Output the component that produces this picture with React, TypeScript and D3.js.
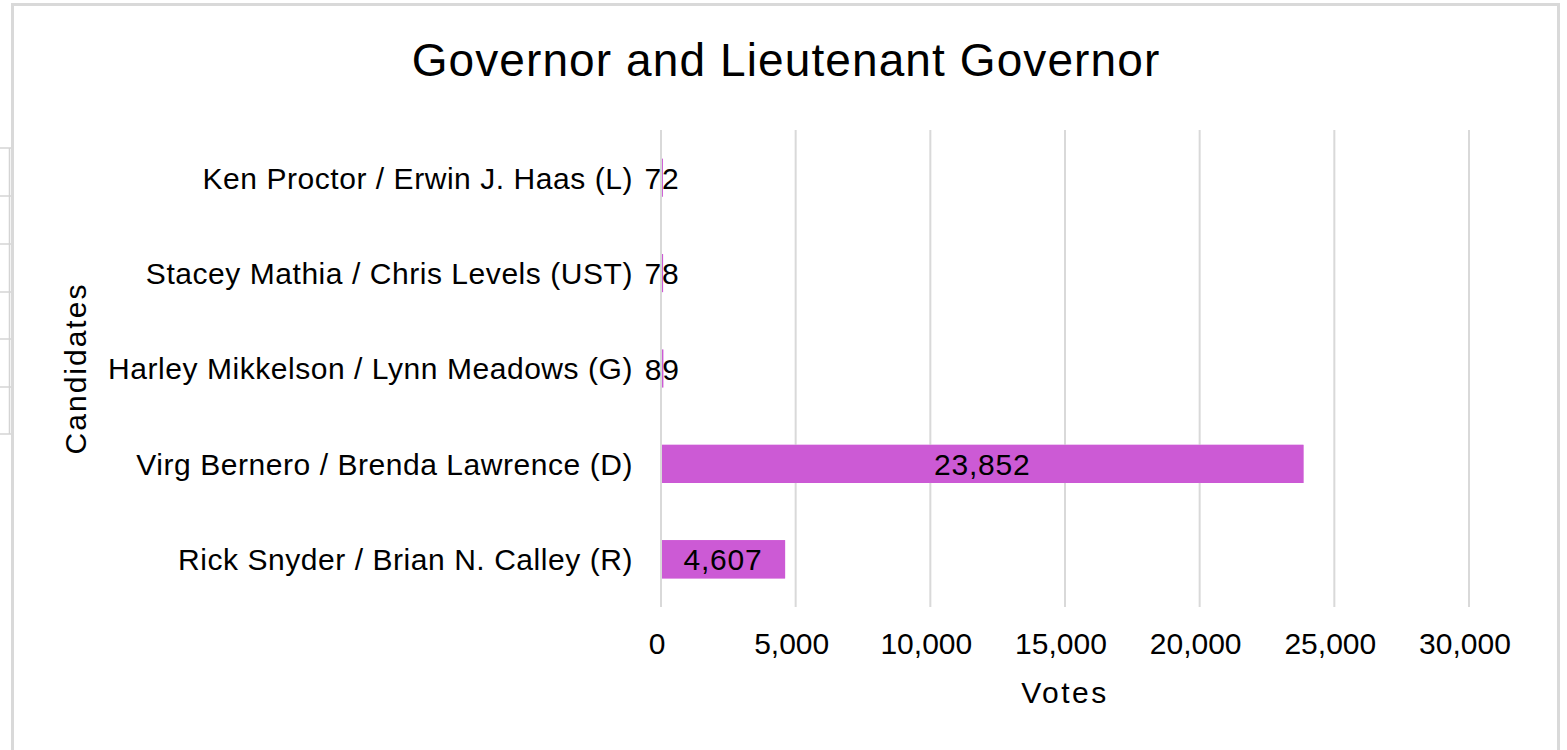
import * as d3 from "d3";

// candidates listed top to bottom as in the chart
const candidates = [
  "Ken Proctor / Erwin J. Haas (L)",
  "Stacey Mathia / Chris Levels (UST)",
  "Harley Mikkelson / Lynn Meadows (G)",
  "Virg Bernero / Brenda Lawrence (D)",
  "Rick Snyder / Brian N. Calley (R)",
];
const votes = [72, 78, 89, 23852, 4607];
const xTicks = [0, 5000, 10000, 15000, 20000, 25000, 30000];
const sheetRows = [148, 196, 244, 292, 339, 387, 434];

const W = 1567;
const H = 750;
const FONT = "'Liberation Sans', Arial, sans-serif";
const GRID = "#d9d9d9";
const BAR = "#cc5ad5";

export default function App() {
  const plot = { left: 661, right: 1469, top: 130, bottom: 607 };

  const x = d3.scaleLinear().domain([0, 30000]).range([plot.left, plot.right]);
  const y = d3
    .scaleBand<string>()
    .domain(candidates)
    .range([plot.top, plot.bottom])
    .paddingInner(0.6)
    .paddingOuter(0.3);
  const fmt = d3.format(",");

  return (
    <svg
      width={W}
      height={H}
      style={{ position: "absolute", left: 0, top: 0, background: "#fff" }}
      fontFamily={FONT}
    >
      {/* spreadsheet cell edges peeking out on the left */}
      {sheetRows.map((r) => (
        <line key={r} x1={0} x2={11} y1={r} y2={r} stroke="#d4d4d4" strokeWidth={1.5} />
      ))}
      <line x1={9.5} x2={9.5} y1={sheetRows[0]} y2={sheetRows[sheetRows.length - 1]} stroke="#d4d4d4" strokeWidth={1.5} />

      {/* chart frame */}
      <rect x={12.5} y={4.5} width={1546} height={H + 10} fill="#fff" stroke={GRID} strokeWidth={3} />

      <text x={786} y={76} textAnchor="middle" fontSize={46} fill="#000" letterSpacing={1.1}>
        Governor and Lieutenant Governor
      </text>

      {/* bars */}
      {candidates.map((c, i) => (
        <rect
          key={c}
          x={x(0)}
          y={y(c)}
          width={x(votes[i]) - x(0)}
          height={y.bandwidth()}
          fill={BAR}
        />
      ))}

      {/* vertical gridlines */}
      {xTicks.map((t) => (
        <line key={t} x1={x(t)} x2={x(t)} y1={plot.top} y2={plot.bottom} stroke={GRID} strokeWidth={2} />
      ))}
      {/* bars cover the gridlines they cross */}
      {candidates.map((c, i) =>
        votes[i] > 1000 ? (
          <rect
            key={c}
            x={x(0) + 1}
            y={y(c)}
            width={x(votes[i]) - x(0) - 1}
            height={y.bandwidth()}
            fill={BAR}
          />
        ) : null
      )}

      {/* value labels, centred in the bar */}
      {candidates.map((c, i) => (
        <text
          key={c}
          x={x(votes[i] / 2)}
          y={(y(c) ?? 0) + y.bandwidth() / 2}
          dy="0.37em"
          textAnchor="middle"
          fontSize={30}
          fill="#000"
          letterSpacing={0.8}
        >
          {fmt(votes[i])}
        </text>
      ))}

      {/* category labels */}
      {candidates.map((c) => (
        <text
          key={c}
          x={plot.left - 28}
          y={(y(c) ?? 0) + y.bandwidth() / 2}
          dy="0.36em"
          textAnchor="end"
          fontSize={30}
          fill="#000"
          letterSpacing={0.55}
        >
          {c}
        </text>
      ))}

      {/* x tick labels */}
      {xTicks.map((t) => (
        <text key={t} x={x(t) - 4} y={654} textAnchor="middle" fontSize={30} fill="#000">
          {fmt(t)}
        </text>
      ))}

      <text
        x={(plot.left + plot.right) / 2}
        y={703}
        textAnchor="middle"
        fontSize={30}
        fill="#000"
        letterSpacing={2.5}
      >
        Votes
      </text>
      <text
        transform={`translate(86,${(plot.top + plot.bottom) / 2}) rotate(-90)`}
        textAnchor="middle"
        fontSize={30}
        fill="#000"
        letterSpacing={2}
      >
        Candidates
      </text>
    </svg>
  );
}
